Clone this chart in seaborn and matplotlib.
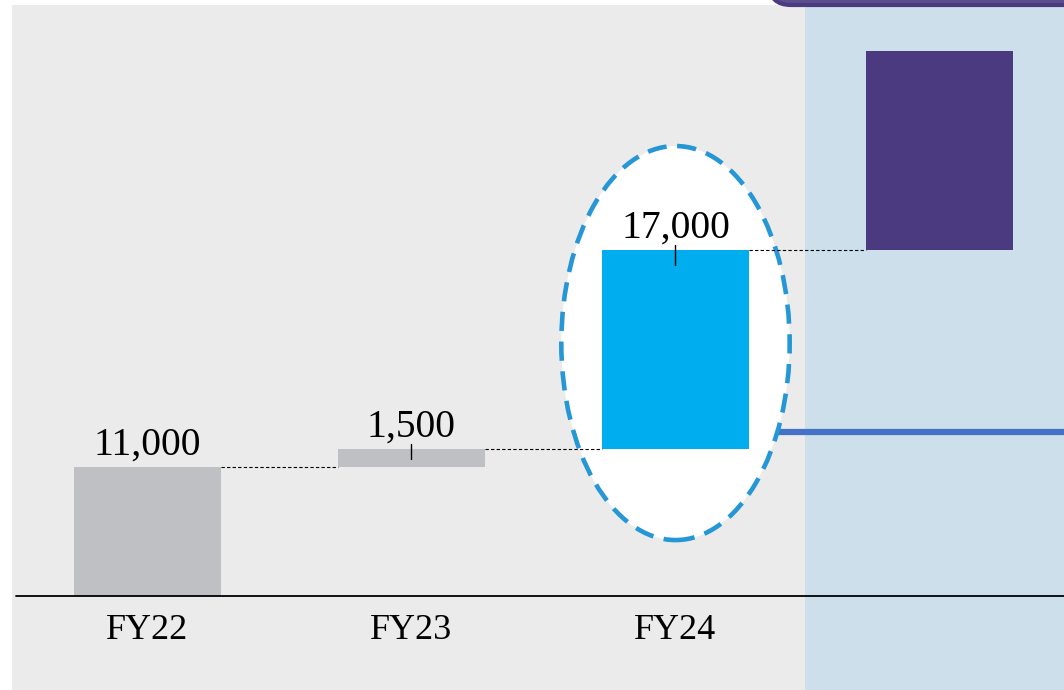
import matplotlib
matplotlib.use("Agg")
import matplotlib.pyplot as plt
import seaborn as sns
import pandas as pd
from matplotlib.patches import Ellipse, Rectangle, FancyBboxPatch
from matplotlib.transforms import IdentityTransform

# ---- data ----
categories = ["FY22", "FY23", "FY24", "FY25"]
tick_labels = ["FY22", "FY23", "FY24", ""]
values = [11000, 1500, 17000, 17000]
value_labels = ["11,000", "1,500", "17,000", ""]
target_level = 14000

bar_colors = ["#BFC0C3", "#BFC0C3", "#00AEEF", "#4B3A7F"]

# waterfall bases
bases = []
run = 0
for v in values:
    bases.append(run)
    run += v

sns.set_style("white")
plt.rcParams["font.family"] = ["Liberation Serif", "DejaVu Serif"]

W, H, DPI = 1064, 690, 100
fig = plt.figure(figsize=(W / DPI, H / DPI), dpi=DPI, facecolor="white")
ax = fig.add_axes([0, 0, 1, 1])
ax.set_facecolor("none")

df = pd.DataFrame({"cat": categories, "val": values})
sns.barplot(data=df, x="cat", y="val", hue="cat", palette=bar_colors,
            width=0.557, legend=False, ax=ax, zorder=3, saturation=1)

for p, b in zip(ax.patches, bases):
    p.set_y(b)
    p.set_edgecolor("none")

# axis limits chosen so layout matches the reference
ax.set_xlim(-0.5587, 3.4716)
ax.set_ylim(-8015, 50822)

# background panels (axes fraction)
ax.add_patch(Rectangle((12 / W, 0), (805 - 12) / W, 1 - 5 / H, transform=ax.transAxes,
                       facecolor="#EBEBEB", edgecolor="none", zorder=0))
ax.add_patch(Rectangle((805 / W, 0), (W - 805) / W, 1 - 5 / H, transform=ax.transAxes,
                       facecolor="#CEDFEC", edgecolor="none", zorder=0))
# purple rounded box just visible at top right
fig.patches.append(FancyBboxPatch((769, H - 5), 600, 100, boxstyle="round,pad=0,rounding_size=22",
                                  transform=IdentityTransform(), facecolor="#5C4D8E",
                                  edgecolor="#4B3A7F", linewidth=3, figure=fig, zorder=10))

# highlight ellipse around FY24
ax.add_patch(Ellipse((2, 21570), 0.865, 33600, facecolor="white", edgecolor="#2596D6",
                     linewidth=3.3, linestyle=(0, (4.2, 2.3)), zorder=2))

# target line
ax.plot([2.32, 3.6], [target_level, target_level], color="#4472C4", linewidth=4.5,
        solid_capstyle="butt", zorder=1)

# baseline
ax.axhline(0, xmin=16 / W, xmax=1, color="black", linewidth=1.3, zorder=4)

# connectors
hw = 0.557 / 2
for i in range(len(values) - 1):
    lvl = bases[i] + values[i]
    ax.plot([i + hw, i + 1 - hw], [lvl, lvl], color="black", linewidth=0.8,
            linestyle=(0, (3, 2)), zorder=4)

# value labels
for i, (v, b, lab) in enumerate(zip(values, bases, value_labels)):
    if not lab:
        continue
    top = b + v
    ax.annotate(lab, (i, top), xytext=(0, 9), textcoords="offset points",
                ha="center", va="baseline", fontsize=28.5, color="black", zorder=5)
    if i > 0:
        ax.plot([i, i], [top + 450, top - (800 if v < 5000 else 1300)],
                color="black", linewidth=1, zorder=5)

ax.set_xticks(range(len(categories)))
ax.set_xticklabels(tick_labels, fontsize=26, color="black")
ax.tick_params(axis="x", length=0, pad=7)
ax.set_yticks([])
ax.set_xlabel("")
ax.set_ylabel("")
for s in ax.spines.values():
    s.set_visible(False)

# place tick labels inside the axes area
for t in ax.get_xticklabels():
    t.set_y(0.124)
    t.set_va("top")

fig.savefig("out.png", dpi=DPI, facecolor="white")
